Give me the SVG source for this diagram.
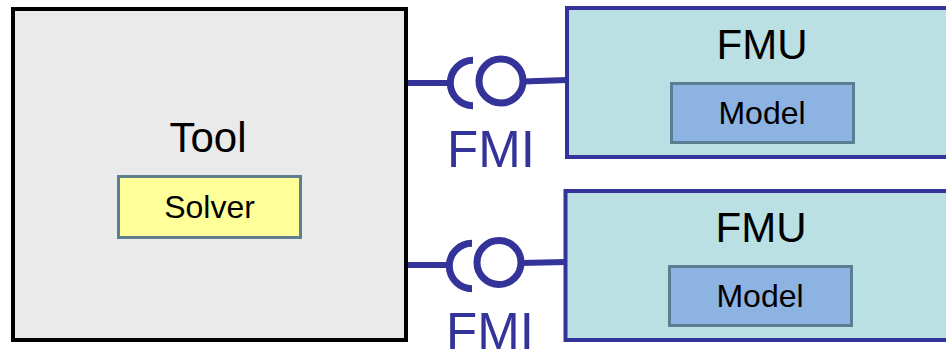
<svg xmlns="http://www.w3.org/2000/svg" width="946" height="354" viewBox="0 0 946 354">
<style>
  text { font-family: "Liberation Sans", Arial, sans-serif; text-anchor: middle; fill: #000; }
  .tool { fill: #EAEAEA; stroke: #000; stroke-width: 4; }
  .solver { fill: #FFFF99; stroke: #5F7F8F; stroke-width: 3; }
  .fmu { fill: #BBE0E3; stroke: #333399; stroke-width: 4; }
  .model { fill: #8DB3E2; stroke: #5B7F92; stroke-width: 3; }
  .wire { fill: none; stroke: #333399; stroke-width: 6; }
  .sock { fill: none; stroke: #333399; stroke-width: 7; }
  .fmi { fill: #333399; font-size: 51px; }
</style>
<g id="tool">
  <rect class="tool" x="13" y="9" width="393" height="331"/>
  <text x="208" y="152" font-size="42">Tool</text>
  <g id="solver">
    <rect class="solver" x="118.5" y="176.5" width="182" height="61"/>
    <text x="209.5" y="218" font-size="32">Solver</text>
  </g>
</g>
<g id="fmu1">
  <rect class="fmu" x="567" y="8" width="400" height="149"/>
  <text x="762" y="59" font-size="42">FMU</text>
  <g id="model1">
    <rect class="model" x="671.5" y="83.5" width="182" height="59"/>
    <text x="762" y="124" font-size="32">Model</text>
  </g>
</g>
<g id="fmu2">
  <rect class="fmu" x="565.5" y="191" width="400" height="149"/>
  <text x="761" y="242" font-size="42">FMU</text>
  <g id="model2">
    <rect class="model" x="669.5" y="266.5" width="182" height="59"/>
    <text x="760" y="307" font-size="32">Model</text>
  </g>
</g>
<g id="connectors">
  <line class="wire" x1="408" y1="83" x2="448" y2="83"/>
  <path class="sock" d="M473,60.3 A22.7,22.7 0 1 0 473,105.7"/>
  <circle class="sock" cx="501" cy="81" r="22"/>
  <line class="wire" x1="523" y1="81.5" x2="567" y2="80"/>
  <text class="fmi" x="491" y="167">FMI</text>

  <line class="wire" x1="408" y1="265" x2="448" y2="265"/>
  <path class="sock" d="M472,243.3 A22.7,22.7 0 1 0 472,288.7"/>
  <circle class="sock" cx="499" cy="262.5" r="22"/>
  <line class="wire" x1="521" y1="263" x2="566" y2="262"/>
  <text class="fmi" x="490" y="349">FMI</text>
</g>
</svg>
